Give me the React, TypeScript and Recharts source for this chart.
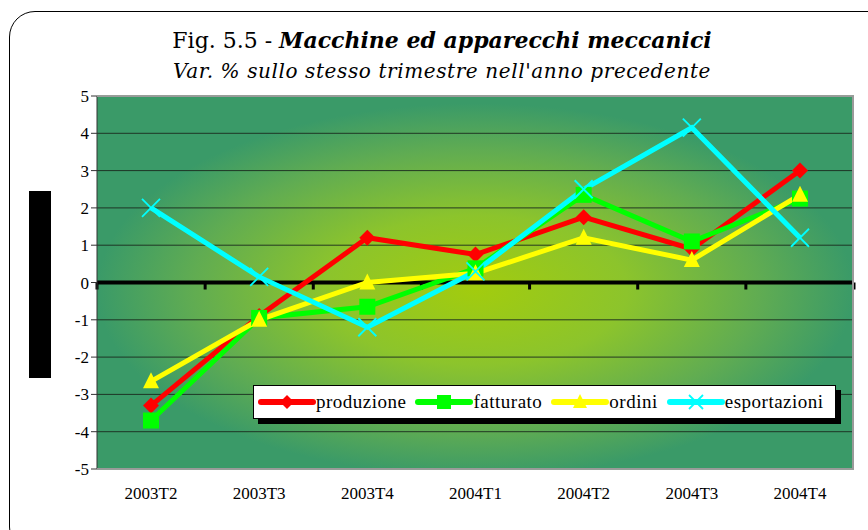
import { CartesianGrid, Line, LineChart, ReferenceLine, XAxis, YAxis } from "recharts";

const quarters = ["2003T2", "2003T3", "2003T4", "2004T1", "2004T2", "2004T3", "2004T4"];
const produzione = [-3.3, -0.9, 1.2, 0.75, 1.75, 0.9, 3.0];
const fatturato = [-3.7, -0.95, -0.65, 0.38, 2.35, 1.1, 2.25];
const ordini = [-2.65, -1.0, 0.0, 0.25, 1.2, 0.6, 2.35];
const esportazioni = [2.0, 0.15, -1.2, 0.3, 2.5, 4.15, 1.2];
const yTicks = [-5, -4, -3, -2, -1, 0, 1, 2, 3, 4, 5];

const data = quarters.map((q, i) => ({
  q,
  produzione: produzione[i],
  fatturato: fatturato[i],
  ordini: ordini[i],
  esportazioni: esportazioni[i],
}));

const serif = "'Liberation Serif', 'Times New Roman', serif";
const titleFont = "'DejaVu Serif', Georgia, serif";

const series = [
  { key: "produzione", color: "#ff0000", marker: "diamond" },
  { key: "fatturato", color: "#00ff00", marker: "square" },
  { key: "ordini", color: "#ffff00", marker: "triangle" },
  { key: "esportazioni", color: "#00ffff", marker: "cross" },
];

function Marker({ cx, cy, kind, color, size = 8 }: any) {
  if (cx == null || cy == null) return null;
  const s = size;
  if (kind === "diamond")
    return <polygon points={`${cx},${cy - s} ${cx + s},${cy} ${cx},${cy + s} ${cx - s},${cy}`} fill={color} />;
  if (kind === "square")
    return <rect x={cx - s} y={cy - s} width={s * 2} height={s * 2} fill={color} />;
  if (kind === "triangle")
    return <polygon points={`${cx},${cy - s - 1} ${cx + s},${cy + s - 1} ${cx - s},${cy + s - 1}`} fill={color} />;
  return (
    <g stroke={color} strokeWidth={1.8}>
      <line x1={cx - s} y1={cy - s} x2={cx + s} y2={cy + s} />
      <line x1={cx - s} y1={cy + s} x2={cx + s} y2={cy - s} />
    </g>
  );
}

function ZeroLine(props: any) {
  const { x1, x2, y1 } = props;
  const n = quarters.length;
  const step = (x2 - x1) / n;
  return (
    <g>
      <line x1={x1} x2={x2} y1={y1} y2={y1} stroke="#000" strokeWidth={4} />
      {Array.from({ length: n + 1 }, (_, i) => (
        <line key={i} x1={x1 + i * step} x2={x1 + i * step} y1={y1} y2={y1 + 7} stroke="#000" strokeWidth={3} />
      ))}
    </g>
  );
}

function LegendBox() {
  return (
    <div
      style={{
        position: "absolute",
        left: 253,
        top: 385,
        width: 583,
        height: 34,
        background: "#fff",
        border: "1px solid #000",
        boxShadow: "5px 5px 0 #000",
        display: "flex",
        alignItems: "center",
        padding: "0 4px",
        fontFamily: serif,
        fontSize: 19,
        letterSpacing: 0.5,
        color: "#000",
        boxSizing: "border-box",
      }}
    >
      {series.map((s) => (
        <div key={s.key} style={{ display: "flex", alignItems: "center", marginRight: 9 }}>
          <svg width={58} height={20}>
            <line x1={3} x2={55} y1={10} y2={10} stroke={s.color} strokeWidth={6} strokeLinecap="round" />
            <Marker cx={29} cy={10} kind={s.marker} color={s.color} size={7} />
          </svg>
          <span>{s.key}</span>
        </div>
      ))}
    </div>
  );
}

export default function App() {
  return (
    <div style={{ position: "absolute", left: 0, top: 0, width: 868, height: 530, overflow: "hidden", background: "#fff" }}>
      <div
        style={{
          position: "absolute",
          left: 9,
          top: 11,
          width: 900,
          height: 540,
          border: "1.5px solid #000",
          borderRadius: 26,
        }}
      />
      <div
        style={{
          position: "absolute",
          left: 0,
          width: 884,
          top: 25,
          textAlign: "center",
          fontFamily: titleFont,
          color: "#000",
          lineHeight: "30px",
        }}
      >
        <div style={{ fontSize: 22 }}>
          Fig. 5.5 - <b><i>Macchine ed apparecchi meccanici</i></b>
        </div>
        <div style={{ fontSize: 20, fontStyle: "italic", letterSpacing: 0.6 }}>
          Var. % sullo stesso trimestre nell'anno precedente
        </div>
      </div>
      <div style={{ position: "absolute", left: 29, top: 191, width: 22, height: 187, background: "#000" }} />
      <div style={{ position: "absolute", left: 0, top: 0 }}>
        <LineChart width={868} height={530} data={data} margin={{ top: 96, right: 14, bottom: 31, left: 57 }}>
          <defs>
            <radialGradient id="bg" cx="50%" cy="52%" r="50%">
              <stop offset="0%" stopColor="#a2cc0e" />
              <stop offset="40%" stopColor="#8cc42c" />
              <stop offset="75%" stopColor="#60ac52" />
              <stop offset="100%" stopColor="#3a9a68" />
            </radialGradient>
          </defs>
          <CartesianGrid vertical={false} fill="url(#bg)" fillOpacity={1} stroke="#1b2a1e" strokeOpacity={0.9} />
          <XAxis
            dataKey="q"
            axisLine={false}
            tickLine={false}
            padding={{ left: 54, right: 54 }}
            height={30}
            tick={{ fontFamily: serif, fontSize: 17, fill: "#000" }}
            tickMargin={12}
            interval={0}
          />
          <YAxis
            domain={[-5, 5]}
            ticks={yTicks}
            width={40}
            axisLine={{ stroke: "#333" }}
            tickLine={{ stroke: "#333" }}
            tickSize={6}
            tick={{ fontFamily: serif, fontSize: 17, fill: "#000" }}
            allowDataOverflow
          />
          <ReferenceLine y={0} shape={(p: any) => <ZeroLine {...p} />} />
          {series.map((s) => (
            <Line
              key={s.key}
              dataKey={s.key}
              type="linear"
              stroke={s.color}
              strokeWidth={5}
              isAnimationActive={false}
              dot={(p: any) => (
                <Marker key={`${s.key}-${p.index}`} cx={p.cx} cy={p.cy} kind={s.marker} color={s.color} size={s.marker === "cross" ? 9 : 8} />
              )}
              activeDot={false}
            />
          ))}
        </LineChart>
      </div>
      <div
        style={{
          position: "absolute",
          left: 97,
          top: 96,
          width: 757,
          height: 373,
          borderTop: "1.5px solid #9a9a9a",
          borderRight: "2px solid #9a9a9a",
          borderBottom: "1.5px solid #9a9a9a",
          boxSizing: "border-box",
          pointerEvents: "none",
        }}
      />
      <LegendBox />
    </div>
  );
}
